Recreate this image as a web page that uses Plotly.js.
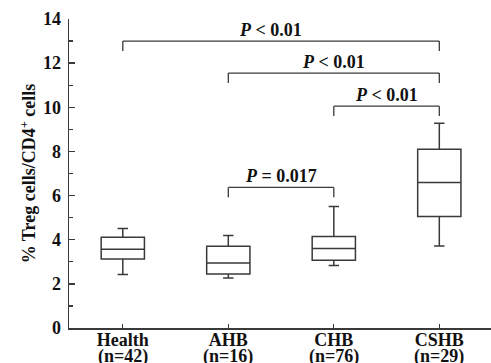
<!DOCTYPE html>
<html>
<head>
<meta charset="utf-8">
<script src="https://cdn.plot.ly/plotly-3.0.1.min.js"></script>
<style>html,body{margin:0;padding:0;background:#fff;}#chart{width:491px;height:363px;}</style>
</head>
<body>
<div id="chart"></div>
<script>
// ---- data ----
const categories = ["Health", "AHB", "CHB", "CSHB"];
const sampleSizes = [42, 16, 76, 29];
const lowerWhisker = [2.42, 2.27, 2.83, 3.72];
const q1Values = [3.13, 2.45, 3.07, 5.05];
const medianValues = [3.57, 2.95, 3.60, 6.59];
const q3Values = [4.11, 3.70, 4.14, 8.10];
const upperWhisker = [4.51, 4.19, 5.51, 9.28];

// significance brackets: from category index, to category index, height, label
const bracketFrom = [0, 1, 2, 1];
const bracketTo = [3, 3, 3, 2];
const bracketY = [13.0, 11.55, 10.05, 6.37];
const bracketLabels = ["<i>P</i> &lt; 0.01", "<i>P</i> &lt; 0.01", "<i>P</i> &lt; 0.01", "<i>P</i> = 0.017"];
const labelOffsetX = [-0.1, 0, 0, 0];

const yTicks = [0, 2, 4, 6, 8, 10, 12, 14];

// ---- build ----
const lineColor = "#3a3a3a";
const FONT = "Liberation Serif";

const trace = {
  type: "box",
  x: categories,
  q1: q1Values,
  median: medianValues,
  q3: q3Values,
  lowerfence: lowerWhisker,
  upperfence: upperWhisker,
  width: 0.41,
  whiskerwidth: 0.24,
  fillcolor: "rgba(255,255,255,0)",
  line: {color: lineColor, width: 1.5},
  boxpoints: false,
  hoverinfo: "skip"
};

const shapes = [];
const annotations = [];
const drop = 0.45;
for (let i = 0; i < bracketY.length; i++) {
  const a = bracketFrom[i], b = bracketTo[i], y = bracketY[i];
  const ln = {color: lineColor, width: 1.3};
  shapes.push({type: "line", xref: "x", yref: "y", x0: a, x1: b, y0: y, y1: y, line: ln});
  shapes.push({type: "line", xref: "x", yref: "y", x0: a, x1: a, y0: y, y1: y - drop, line: ln});
  shapes.push({type: "line", xref: "x", yref: "y", x0: b, x1: b, y0: y, y1: y - drop, line: ln});
  annotations.push({
    xref: "x", yref: "y", x: (a + b) / 2 + labelOffsetX[i], y: y + 0.5,
    text: "<b>" + bracketLabels[i] + "</b>", showarrow: false,
    xanchor: "center", yanchor: "middle",
    font: {family: FONT, size: 18, color: "#111"}
  });
}
// sample size line under each category label
for (let i = 0; i < categories.length; i++) {
  annotations.push({
    xref: "x", yref: "paper", x: i, y: -0.092,
    text: "<b>(n=" + sampleSizes[i] + ")</b>", showarrow: false,
    xanchor: "center", yanchor: "middle",
    font: {family: FONT, size: 18, color: "#111"}
  });
}

const layout = {
  width: 491, height: 363,
  margin: {l: 69, r: 0, t: 19, b: 35},
  paper_bgcolor: "#fff", plot_bgcolor: "#fff",
  showlegend: false,
  font: {family: FONT, color: "#111"},
  xaxis: {
    type: "category",
    range: [-0.51, 3.49],
    showline: true, linecolor: lineColor, linewidth: 1.5,
    ticks: "inside", ticklen: 4, tickcolor: lineColor, tickwidth: 1.3,
    showgrid: false, zeroline: false,
    ticklabelstandoff: -5,
    tickfont: {family: FONT, size: 18, color: "#111", weight: "bold"}
  },
  yaxis: {
    range: [0, 14],
    tickvals: yTicks,
    ticktext: yTicks.map(String),
    showline: true, linecolor: lineColor, linewidth: 1.5,
    ticks: "inside", ticklen: 6, tickcolor: lineColor, tickwidth: 1.3,
    minor: {dtick: 1, ticks: "inside", ticklen: 4, tickcolor: lineColor, tickwidth: 1.2, showgrid: false},
    showgrid: false, zeroline: false,
    ticklabelstandoff: 3,
    tickfont: {family: FONT, size: 18, color: "#111", weight: "bold"},
    title: {text: "% Treg cells/CD4<sup>+</sup> cells", font: {family: FONT, size: 18, color: "#111", weight: "bold"}, standoff: 2}
  },
  shapes: shapes,
  annotations: annotations
};

Plotly.newPlot("chart", [trace], layout, {displayModeBar: false, staticPlot: true});
</script>
</body>
</html>
